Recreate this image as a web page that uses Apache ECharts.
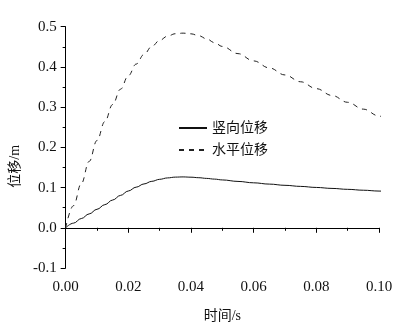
<!DOCTYPE html>
<html>
<head>
<meta charset="utf-8">
<script src="https://cdn.jsdelivr.net/npm/echarts@6/dist/echarts.min.js"></script>
<style>
html,body{margin:0;padding:0;background:#fff;}
#main{width:419px;height:328px;}
</style>
</head>
<body>
<div id="main"></div>
<script>
// 时间 (s)
var time = [0, 0.0025, 0.005, 0.0075, 0.01, 0.0125, 0.015, 0.0175, 0.02, 0.0225, 0.025, 0.0275, 0.03, 0.0325, 0.035, 0.0375,
    0.04, 0.0425, 0.045, 0.0475, 0.05, 0.055, 0.06, 0.065, 0.07, 0.075, 0.08, 0.085, 0.09, 0.095, 0.1, 0.102];
// 竖向位移 (m)
var vertDisp = [0, 0.0115, 0.023, 0.0345, 0.046, 0.0575, 0.069, 0.0805, 0.0915, 0.101, 0.109, 0.1155, 0.1205, 0.124, 0.126, 0.1265,
    0.1258, 0.1245, 0.1228, 0.121, 0.119, 0.1153, 0.1118, 0.1086, 0.1056, 0.1029, 0.1003, 0.0979, 0.0956, 0.0934, 0.0913, 0.0905];
// 水平位移 (m)
var horiDisp = [0, 0.055, 0.110, 0.165, 0.217, 0.264, 0.3065, 0.3445, 0.378, 0.407, 0.431, 0.451, 0.466, 0.4765, 0.4825, 0.484,
    0.4823, 0.4776, 0.4697, 0.4603, 0.451, 0.433, 0.415, 0.3975, 0.380, 0.363, 0.346, 0.329, 0.312, 0.295, 0.278, 0.271];

var seriesNames = ['竖向位移', '水平位移'];

function pairs(xs, ys){
    var out = [];
    for(var i = 0; i < xs.length; i++){
        out.push([xs[i], ys[i]]);
    }
    return out;
}

var myChart = echarts.init(document.getElementById('main'));
var fontFam = '"Liberation Serif", "Noto Sans CJK SC", serif';

var option = {
    animation: false,
    backgroundColor: '#fff',
    grid: { left: 60, right: 40, top: 26.7, bottom: 58 },
    legend: {
        orient: 'vertical',
        left: 173,
        top: 116,
        itemWidth: 28,
        itemHeight: 14,
        itemGap: 8,
        itemStyle: { opacity: 0 },
        textStyle: { fontFamily: fontFam, fontSize: 14, color: '#111' },
        data: seriesNames
    },
    xAxis: {
        type: 'value',
        min: 0,
        max: 0.1,
        interval: 0.02,
        name: '时间/s',
        nameLocation: 'middle',
        nameGap: 41,
        nameTextStyle: { fontFamily: fontFam, fontSize: 14, color: '#111' },
        axisLine: { lineStyle: { color: '#000', width: 1 } },
        axisTick: { length: 5, lineStyle: { color: '#000' } },
        minorTick: { show: true, splitNumber: 2, length: 3, lineStyle: { color: '#000' } },
        splitLine: { show: false },
        axisLabel: {
            margin: 12,
            fontFamily: fontFam, fontSize: 15, color: '#111',
            formatter: function(v){ return v.toFixed(2); }
        }
    },
    yAxis: {
        type: 'value',
        min: -0.1,
        max: 0.5,
        interval: 0.1,
        name: '位移/m',
        nameLocation: 'middle',
        nameGap: 37,
        nameTextStyle: { fontFamily: fontFam, fontSize: 14, color: '#111', padding: [0, 38, 0, 0] },
        axisLine: { show: true, lineStyle: { color: '#000', width: 1 } },
        axisTick: { show: true, length: 5, lineStyle: { color: '#000' } },
        minorTick: { show: true, splitNumber: 2, length: 3, lineStyle: { color: '#000' } },
        splitLine: { show: false },
        axisLabel: {
            margin: 9,
            fontFamily: fontFam, fontSize: 15, color: '#111',
            formatter: function(v){ return v.toFixed(1); }
        }
    },
    series: [{
        name: seriesNames[0],
        type: 'line',
        data: pairs(time, vertDisp),
        smooth: 0.4,
        smoothMonotone: 'x',
        symbol: 'none',
        clip: false,
        lineStyle: { color: '#111', width: 1, type: 'solid' },
        itemStyle: { color: '#111' }
    }, {
        name: seriesNames[1],
        type: 'line',
        data: pairs(time, horiDisp),
        smooth: 0.4,
        smoothMonotone: 'x',
        symbol: 'none',
        clip: false,
        lineStyle: { color: '#222', width: 1, type: [5, 5] },
        itemStyle: { color: '#222' }
    }]
};
myChart.setOption(option);
</script>
</body>
</html>
